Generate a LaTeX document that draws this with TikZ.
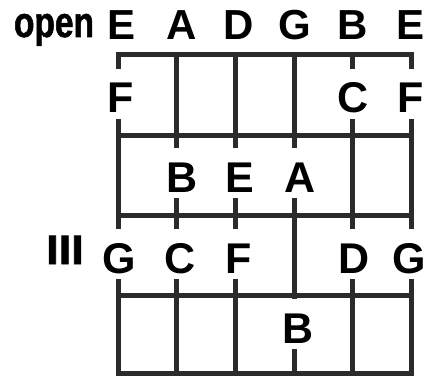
\documentclass[tikz,border=0pt]{standalone}
\usepackage{fontspec}
\setmainfont{Liberation Sans}
\newfontfamily\narrowfont[FakeStretch=0.78,FakeBold=1.2]{Liberation Sans}
\newfontfamily\heavyfont[FakeStretch=1.1,FakeBold=2]{Liberation Sans}
\definecolor{fretgray}{HTML}{2B2B2B}

\begin{document}
\begin{tikzpicture}[x=1pt, y=-1pt, line width=5pt, line cap=rect, line join=miter,
  note/.style={anchor=base, inner sep=0pt, fill=white, text height=44pt, text depth=6pt,
    font=\fontsize{43}{50}\selectfont\bfseries},
  topnote/.style={anchor=base, inner sep=0pt, font=\fontsize{42}{50}\selectfont\bfseries}]

  %% ════ 弦（竖线）════
  \draw[fretgray] (118.0,55.0) -- (118.0,373.0);
  \draw[fretgray] (176.7,55.0) -- (176.7,373.0);
  \draw[fretgray] (235.4,55.0) -- (235.4,373.0);
  \draw[fretgray] (294.0,55.0) -- (294.0,373.0);
  \draw[fretgray] (352.8,55.0) -- (352.8,373.0);
  \draw[fretgray] (411.5,55.0) -- (411.5,373.0);

  %% ════ 品丝（横线）════
  \draw[fretgray] (118.0,55.0) -- (411.5,55.0);
  \draw[fretgray] (118.0,135.0) -- (411.5,135.0);
  \draw[fretgray] (118.0,215.0) -- (411.5,215.0);
  \draw[fretgray] (118.0,295.0) -- (411.5,295.0);
  \draw[fretgray] (118.0,373.0) -- (411.5,373.0);

  %% ════ 空弦行 ════
  \node[anchor=base, inner sep=0pt, font=\fontsize{43}{50}\narrowfont\bfseries] (open) at (54.0,37.0) {open};
  \node[topnote] (o1) at (121.5,40.0) {E};
  \node[topnote] (o2) at (182.0,40.0) {A};
  \node[topnote] (o3) at (239.0,40.0) {D};
  \node[topnote] (o4) at (295.0,40.0) {G};
  \node[topnote] (o5) at (353.0,40.0) {B};
  \node[topnote] (o6) at (411.0,40.0) {E};

  %% ════ 各品音名（fill=white 挡住弦线）════
  \node[note] (f1s1) at (121.0,113.0) {F};
  \node[note] (f1s5) at (353.5,113.0) {C};
  \node[note] (f1s6) at (411.0,113.0) {F};

  \node[note] (f2s2) at (182.5,192.0) {B};
  \node[note] (f2s3) at (240.0,192.0) {E};
  \node[note] (f2s4) at (300.0,192.0) {A};

  \node[note] (f3s1) at (119.0,273.0) {G};
  \node[note] (f3s2) at (180.5,273.0) {C};
  \node[note] (f3s3) at (238.5,273.0) {F};
  \node[note] (f3s5) at (354.0,273.0) {D};
  \node[note] (f3s6) at (409.0,273.0) {G};

  \node[note] (f4s4) at (298.0,343.0) {B};

  %% 品位标记
  \node[anchor=base, inner sep=0pt, font=\fontsize{41}{48}\heavyfont\bfseries] (pos3) at (65.0,264.0) {III};

  % 钉死画布
  \pgfresetboundingbox
  \path[use as bounding box] (0,0) rectangle (428,377);
\end{tikzpicture}
\end{document}
